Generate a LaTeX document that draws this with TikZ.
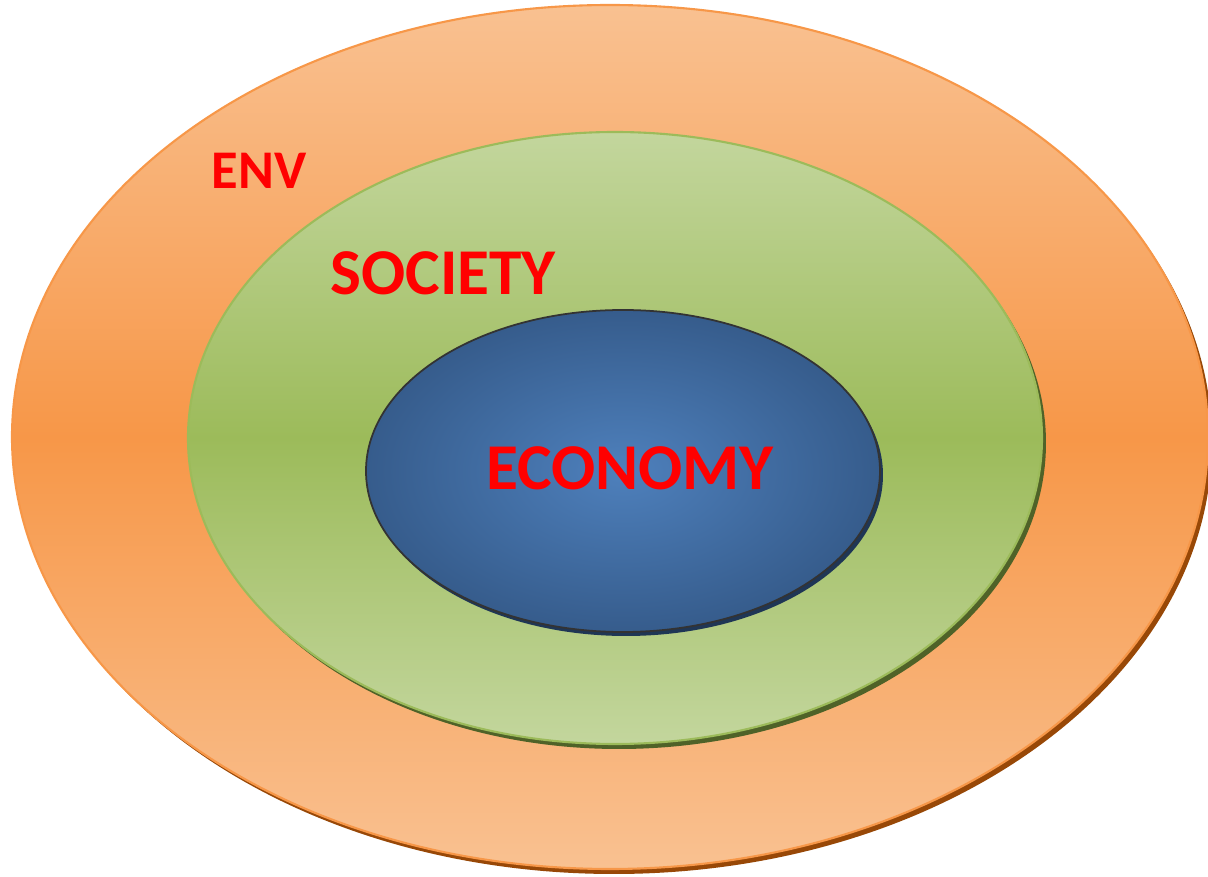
\documentclass[tikz,border=0pt]{standalone}
\usepackage{fontspec}
\setmainfont{Carlito}
\usetikzlibrary{calc}
\definecolor{envlt}{HTML}{F9C191}
\definecolor{envdk}{HTML}{F79748}
\definecolor{envsh}{HTML}{984807}
\definecolor{soclt}{HTML}{C3D69D}
\definecolor{socdk}{HTML}{9CBB5A}
\definecolor{socsh}{HTML}{4F6228}
\definecolor{ecolt}{HTML}{4E80BC}
\definecolor{ecodk}{HTML}{365C8C}
\definecolor{ecosh}{HTML}{1F3655}
\tikzset{
	lbl/.style={text=red,font=\bfseries,inner sep=0pt},
}
\begin{document}
\begin{tikzpicture}
	\useasboundingbox (0,0) rectangle (12.08,8.77);
	\path
	(6.10,4.40) coordinate (E)
	(6.15,4.39) coordinate (S)
	(6.23,4.06) coordinate (C);
	% environment
	\fill[envsh] ($(E)+(.04,-.05)$) ellipse[x radius=5.98,y radius=4.32];
	\draw[envdk,line width=.6pt,top color=envlt,bottom color=envlt,middle color=envdk] (E) ellipse[x radius=5.98,y radius=4.32];
	% society
	\fill[socsh] ($(S)+(.04,-.05)$) ellipse[x radius=4.27,y radius=3.06];
	\draw[socdk,line width=.6pt,top color=soclt,bottom color=soclt,middle color=socdk] (S) ellipse[x radius=4.27,y radius=3.06];
	% economy
	\fill[ecosh] ($(C)+(.03,-.04)$) ellipse[x radius=2.57,y radius=1.61];
	\draw[black!80,line width=.5pt,inner color=ecolt,outer color=ecodk] (C) ellipse[x radius=2.57,y radius=1.61];
	\node[lbl,font=\bfseries\fontsize{15.5}{18}\selectfont] (env) at (2.59,7.06) {ENV};
	\node[lbl,font=\bfseries\fontsize{18.6}{22}\selectfont] (soc) at (4.43,6.04) {SOCIETY};
	\node[lbl,font=\bfseries\fontsize{18.6}{22}\selectfont] (eco) at (6.30,4.09) {ECONOMY};
\end{tikzpicture}
\end{document}
